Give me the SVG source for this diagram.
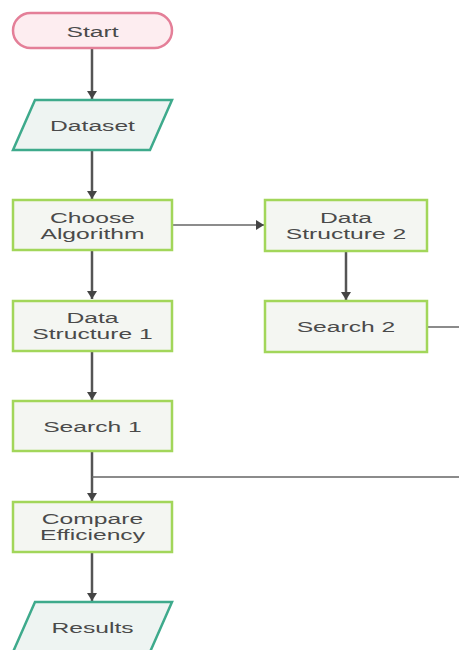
<svg xmlns="http://www.w3.org/2000/svg" width="459" height="650" viewBox="0 0 459 650">
<style>
.box{fill:#f4f6f2;stroke:#a2d65a;stroke-width:2.5}
.io{fill:#eef4f2;stroke:#3eaa8c;stroke-width:2.5}
.term{fill:#fdedf0;stroke:#e47f98;stroke-width:2.5}
.lbl{font-family:"Liberation Sans",Arial,sans-serif;font-size:14.5px;fill:#4a4a4a;text-anchor:middle}
.c{fill:none;stroke:#555;stroke-width:2.5}
.ch{fill:none;stroke:#666;stroke-width:1.6}
</style>
<defs>
<marker id="ah" markerUnits="userSpaceOnUse" markerWidth="12" markerHeight="10" refX="8" refY="5" orient="auto">
<path d="M0,0 L8,5 L0,10 z" fill="#444"/>
</marker>
</defs>
<rect width="459" height="650" fill="#ffffff"/>
<g id="connectors">
<path class="c" d="M92,48 V99" marker-end="url(#ah)"/>
<path class="c" d="M92,150 V199" marker-end="url(#ah)"/>
<path class="ch" d="M172,225 H264" marker-end="url(#ah)"/>
<path class="c" d="M92,250 V299" marker-end="url(#ah)"/>
<path class="c" d="M346,251 V300" marker-end="url(#ah)"/>
<path class="c" d="M92,351 V400" marker-end="url(#ah)"/>
<path class="c" d="M92,451 V501" marker-end="url(#ah)"/>
<path class="ch" d="M427,327 H475 V477 H92"/>
<path class="c" d="M92,552 V601" marker-end="url(#ah)"/>
</g>
<g id="start">
<rect class="term" x="13" y="13" width="159" height="35" rx="17.5"/>
<text class="lbl" transform="translate(92.5,37) scale(1.7,1)">Start</text>
</g>
<g id="dataset">
<polygon class="io" points="35,100 172,100 150,150 13,150"/>
<text class="lbl" transform="translate(92.5,131) scale(1.7,1)">Dataset</text>
</g>
<g id="choose">
<rect class="box" x="13" y="200" width="159" height="50"/>
<text class="lbl" transform="translate(92.5,223) scale(1.7,1)">Choose</text>
<text class="lbl" transform="translate(92.5,239) scale(1.7,1)">Algorithm</text>
</g>
<g id="ds2">
<rect class="box" x="265" y="200" width="162" height="51"/>
<text class="lbl" transform="translate(346,223) scale(1.7,1)">Data</text>
<text class="lbl" transform="translate(346,239) scale(1.7,1)">Structure 2</text>
</g>
<g id="ds1">
<rect class="box" x="13" y="301" width="159" height="50"/>
<text class="lbl" transform="translate(92.5,323) scale(1.7,1)">Data</text>
<text class="lbl" transform="translate(92.5,339) scale(1.7,1)">Structure 1</text>
</g>
<g id="search2">
<rect class="box" x="265" y="301" width="162" height="51"/>
<text class="lbl" transform="translate(346,332) scale(1.7,1)">Search 2</text>
</g>
<g id="search1">
<rect class="box" x="13" y="401" width="159" height="50"/>
<text class="lbl" transform="translate(92.5,431.5) scale(1.7,1)">Search 1</text>
</g>
<g id="compare">
<rect class="box" x="13" y="502" width="159" height="50"/>
<text class="lbl" transform="translate(92.5,524) scale(1.7,1)">Compare</text>
<text class="lbl" transform="translate(92.5,540) scale(1.7,1)">Efficiency</text>
</g>
<g id="results">
<polygon class="io" points="35,602 172,602 150,652 13,652"/>
<text class="lbl" transform="translate(92.5,633) scale(1.7,1)">Results</text>
</g>
</svg>
